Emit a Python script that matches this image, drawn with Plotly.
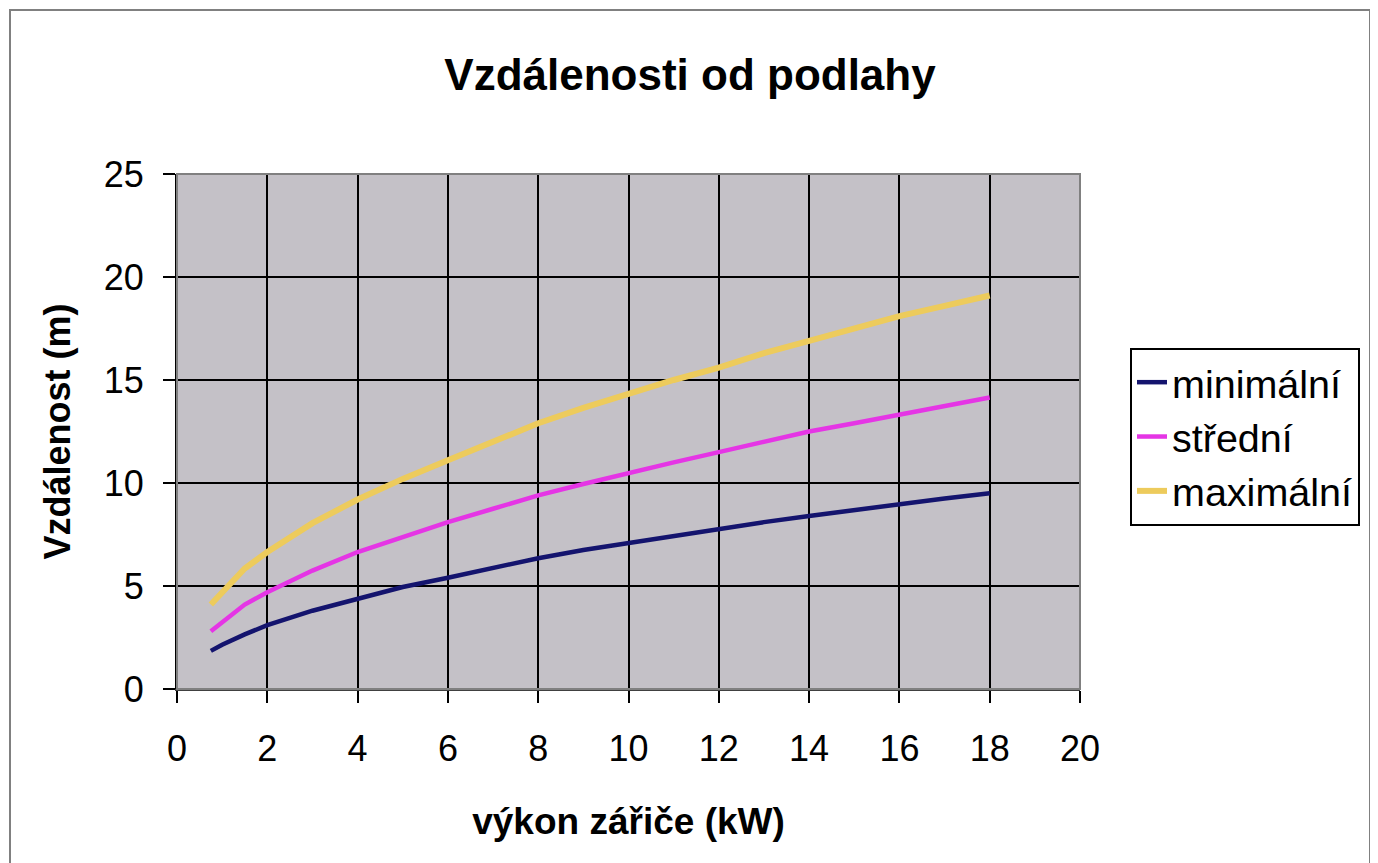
import plotly.graph_objects as go

power_kw = [0.75, 1, 1.5, 2, 3, 4, 5, 6, 7, 8, 9, 10, 11, 12, 13, 14, 15, 16, 17, 18]
minimalni = [1.85, 2.15, 2.65, 3.1, 3.8, 4.4, 4.95, 5.4, 5.9, 6.35, 6.75, 7.1, 7.45, 7.8, 8.1, 8.4, 8.7, 9.0, 9.25, 9.5]
stredni = [2.8, 3.25, 4.1, 4.7, 5.75, 6.65, 7.4, 8.1, 8.75, 9.4, 9.95, 10.5, 11.0, 11.5, 12.0, 12.5, 12.9, 13.3, 13.75, 14.15]
maximalni = [4.1, 4.7, 5.85, 6.65, 8.05, 9.2, 10.2, 11.1, 12.0, 12.9, 13.65, 14.35, 15.0, 15.6, 16.3, 16.9, 17.5, 18.1, 18.6, 19.1]

series_names = ["minimální", "střední", "maximální"]
x_ticks = [0, 2, 4, 6, 8, 10, 12, 14, 16, 18, 20]
y_ticks = [0, 5, 10, 15, 20, 25]

FONT = "Liberation Sans, Arial, sans-serif"

fig = go.Figure()
fig.add_trace(go.Scatter(x=power_kw, y=minimalni, mode="lines", name=series_names[0],
                         line=dict(color="#14146E", width=4.5)))
fig.add_trace(go.Scatter(x=power_kw, y=stredni, mode="lines", name=series_names[1],
                         line=dict(color="#E535E5", width=4.5)))
fig.add_trace(go.Scatter(x=power_kw, y=maximalni, mode="lines", name=series_names[2],
                         line=dict(color="#EDCB5C", width=6)))

# page has an 8px body margin; figure coordinates = page coordinates - 8
OFF = 8
W, H = 1378 - OFF, 863 - OFF
L, R, T, B = 177 - OFF, 1080 - OFF, 174 - OFF, 689 - OFF
pw, ph = R - L, B - T

def px(xp):
    return (xp - OFF - L) / pw

def py(yp):
    return (B - (yp - OFF)) / ph

fig.update_layout(
    width=W, height=H,
    margin=dict(l=L, r=W - R, t=T, b=H - B, pad=0),
    paper_bgcolor="white",
    plot_bgcolor="#C4C1C7",
    font=dict(family=FONT, color="black"),
    title=dict(text="<b>Vzdálenosti od podlahy</b>", x=(690 - OFF) / W, xanchor="center",
               y=1 - (75 - OFF) / H, yanchor="middle", font=dict(size=44, family=FONT)),
    showlegend=True,
    legend=dict(x=px(1130), y=py(348), xanchor="left", yanchor="top",
                bgcolor="white", bordercolor="black", borderwidth=2,
                font=dict(size=39.5, family=FONT), tracegroupgap=0,
                itemwidth=30),
    xaxis=dict(range=[0, 20], tickvals=x_ticks, ticktext=[str(v) for v in x_ticks],
               showgrid=True, gridcolor="black", gridwidth=2,
               showline=True, linecolor="#404040", linewidth=2,
               ticks="outside", ticklen=12, tickwidth=1.5, tickcolor="black",
               tickfont=dict(size=36, family=FONT), ticklabelstandoff=15,
               zeroline=False,
               title=dict(text="<b>výkon zářiče (kW)</b>", font=dict(size=37, family=FONT),
                          standoff=40)),
    yaxis=dict(range=[0, 25], tickvals=y_ticks, ticktext=[str(v) for v in y_ticks],
               showgrid=True, gridcolor="black", gridwidth=2,
               showline=True, linecolor="black", linewidth=2,
               ticks="outside", ticklen=12, tickwidth=1.5, tickcolor="black",
               tickfont=dict(size=36, family=FONT), ticklabelstandoff=12,
               zeroline=False,
               title=dict(text="<b>Vzdálenost (m)</b>", font=dict(size=36, family=FONT),
                          standoff=22)),
    shapes=[
        dict(type="rect", xref="paper", yref="paper", x0=0, x1=1, y0=0, y1=1,
             line=dict(color="#808080", width=2), layer="above"),
        dict(type="rect", xref="paper", yref="paper", x0=px(10), x1=px(1370),
             y0=py(10), y1=py(900), line=dict(color="#808080", width=2)),
    ],
)

fig.write_html("out.html")
